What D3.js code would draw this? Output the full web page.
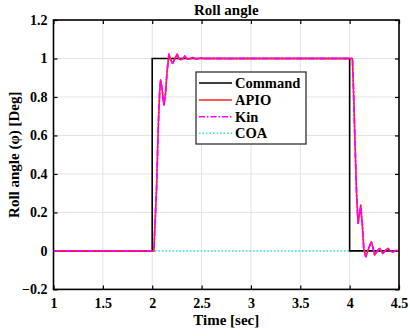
<!DOCTYPE html>
<html>
<head>
<meta charset="utf-8">
<script src="https://cdn.jsdelivr.net/npm/d3@7"></script>
<style>
  html, body { margin: 0; padding: 0; background: #fff; }
  svg { display: block; }
  text { font-family: "Liberation Serif", "Times New Roman", serif; font-weight: bold; fill: #000; }
</style>
</head>
<body>
<div id="chart"></div>
<script>
// ---------- data ----------
const title = "Roll angle";
const xLabel = "Time [sec]";
const yLabel = "Roll angle (\u03C6) [Deg]";
const xTicks = [1, 1.5, 2, 2.5, 3, 3.5, 4, 4.5];
const yTicks = [-0.2, 0, 0.2, 0.4, 0.6, 0.8, 1, 1.2];
const seriesNames = ["Command", "APIO", "Kin", "COA"];

const commandTime = [1, 2, 2, 4, 4, 4.5];
const commandValues = [0, 0, 1, 1, 0, 0];

const apioTime = [1, 2.0, 2.017, 2.03, 2.045, 2.061, 2.075, 2.085, 2.10, 2.118, 2.135, 2.15, 2.169, 2.19, 2.206, 2.23, 2.253, 2.27, 2.29, 2.31, 2.33, 2.35, 2.37, 2.39, 2.41, 2.43, 2.45, 2.47, 2.49, 2.52, 2.56, 2.6, 3.0, 3.5, 4.0, 4.028,
  4.04, 4.055, 4.07, 4.085, 4.10, 4.112, 4.128, 4.143, 4.163, 4.19, 4.22, 4.254, 4.28, 4.305, 4.335, 4.36, 4.386, 4.41, 4.44, 4.47, 4.5];
const apioValues = [0, 0, 0, 0.16, 0.34, 0.64, 0.82, 0.889, 0.84, 0.758, 0.82, 0.93, 1.022, 0.99, 0.975, 1.0, 1.022, 1.0, 0.993, 1.0, 1.012, 1.0, 0.996, 1.0, 1.006, 1.0, 0.998, 1.0, 1.003, 1.0, 1.0, 1.0, 1.0, 1.0, 1.0, 1.0,
  0.82, 0.55, 0.3, 0.144, 0.19, 0.237, 0.14, 0.013, -0.03, 0.01, 0.048, -0.021, 0.0, 0.013, -0.013, 0.0, 0.013, 0.0, -0.005, 0.003, 0];

const kinTime = apioTime;      // overlaps APIO within pixel resolution
const kinValues = apioValues;

const coaTime = [1, 4.5];
const coaValues = [0, 0];

// ---------- layout ----------
const W = 410, H = 336;
const plot = { left: 53.5, right: 399, top: 20, bottom: 289.4 };

const svg = d3.select("#chart").append("svg").attr("width", W).attr("height", H);

const x = d3.scaleLinear().domain([1, 4.5]).range([plot.left, plot.right]);
const y = d3.scaleLinear().domain([-0.2, 1.2]).range([plot.bottom, plot.top]);

// grid
const grid = svg.append("g");
grid.selectAll("line.gx").data(xTicks).join("line")
  .attr("x1", d => x(d)).attr("x2", d => x(d))
  .attr("y1", plot.top).attr("y2", plot.bottom)
  .attr("stroke", "#e3e3e3").attr("stroke-width", 1);
grid.selectAll("line.gy").data(yTicks).join("line")
  .attr("x1", plot.left).attr("x2", plot.right)
  .attr("y1", d => y(d)).attr("y2", d => y(d))
  .attr("stroke", "#e3e3e3").attr("stroke-width", 1);

// axes (inward ticks on all four sides)
const tickLen = 4;
const axB = svg.append("g").attr("transform", `translate(0,${plot.bottom})`)
  .call(d3.axisBottom(x).tickValues(xTicks).tickSize(-tickLen).tickPadding(9).tickFormat(d3.format("")));
const axT = svg.append("g").attr("transform", `translate(0,${plot.top})`)
  .call(d3.axisTop(x).tickValues(xTicks).tickSize(-tickLen).tickFormat(""));
const axL = svg.append("g").attr("transform", `translate(${plot.left},0)`)
  .call(d3.axisLeft(y).tickValues(yTicks).tickSize(-tickLen).tickPadding(6).tickFormat(d3.format("")));
const axR = svg.append("g").attr("transform", `translate(${plot.right},0)`)
  .call(d3.axisRight(y).tickValues(yTicks).tickSize(-tickLen).tickFormat(""));
[axB, axT, axL, axR].forEach(a => {
  a.select(".domain").remove();
  a.selectAll(".tick line").attr("stroke", "#000").attr("stroke-width", 1.2);
  a.selectAll(".tick text").style("font-size", "14px").style("font-family", "Liberation Serif").style("font-weight", "bold");
});
axB.selectAll(".tick text").attr("dy", "0.71em");

// series
const line = d3.line().x(d => x(d[0])).y(d => y(d[1]));
const zip = (t, v) => t.map((tt, i) => [tt, v[i]]);
const g = svg.append("g");

g.append("path").datum(zip(coaTime, coaValues)).attr("d", line)
  .attr("fill", "none").attr("stroke", "#33e6e6").attr("stroke-width", 1.5).attr("stroke-dasharray", "1.5,2");
g.append("path").datum(zip(commandTime, commandValues)).attr("d", line)
  .attr("fill", "none").attr("stroke", "#000").attr("stroke-width", 1.6);
g.append("path").datum(zip(apioTime, apioValues)).attr("d", line)
  .attr("fill", "none").attr("stroke", "#ff2020").attr("stroke-width", 1.6).attr("stroke-linejoin", "round");
g.append("path").datum(zip(kinTime, kinValues)).attr("d", line)
  .attr("fill", "none").attr("stroke", "#ff00ff").attr("stroke-width", 1.8)
  .attr("stroke-dasharray", "6,2,1.5,2").attr("stroke-linejoin", "round");

// frame
svg.append("rect").attr("x", plot.left).attr("y", plot.top)
  .attr("width", plot.right - plot.left).attr("height", plot.bottom - plot.top)
  .attr("fill", "none").attr("stroke", "#000").attr("stroke-width", 1.6);

// title and axis labels
svg.append("text").attr("x", (plot.left + plot.right) / 2).attr("y", 15)
  .attr("text-anchor", "middle").style("font-size", "15px").text(title);
svg.append("text").attr("x", (plot.left + plot.right) / 2).attr("y", 325)
  .attr("text-anchor", "middle").style("font-size", "15px").text(xLabel);
svg.append("text").attr("transform", `translate(19,${(plot.top + plot.bottom) / 2}) rotate(-90)`)
  .attr("text-anchor", "middle").style("font-size", "15px").text(yLabel);

// legend
const leg = svg.append("g");
leg.append("rect").attr("x", 196).attr("y", 72).attr("width", 110).attr("height", 72)
  .attr("fill", "#fff").attr("stroke", "#333").attr("stroke-width", 1.3);
const legStyles = [
  { stroke: "#000", dash: null, w: 1.6 },
  { stroke: "#ff2020", dash: null, w: 1.6 },
  { stroke: "#ff00ff", dash: "6,2,1.5,2", w: 1.6 },
  { stroke: "#33e6e6", dash: "1.5,2", w: 1.5 }
];
const legY = [83, 100, 116.7, 133.3];
seriesNames.forEach((name, i) => {
  const s = legStyles[i];
  const ln = leg.append("line").attr("x1", 199).attr("x2", 232)
    .attr("y1", legY[i]).attr("y2", legY[i])
    .attr("stroke", s.stroke).attr("stroke-width", s.w);
  if (s.dash) ln.attr("stroke-dasharray", s.dash);
  leg.append("text").attr("x", 235).attr("y", legY[i]).attr("dy", "0.35em")
    .style("font-size", "14.5px").text(name);
});
</script>
</body>
</html>
